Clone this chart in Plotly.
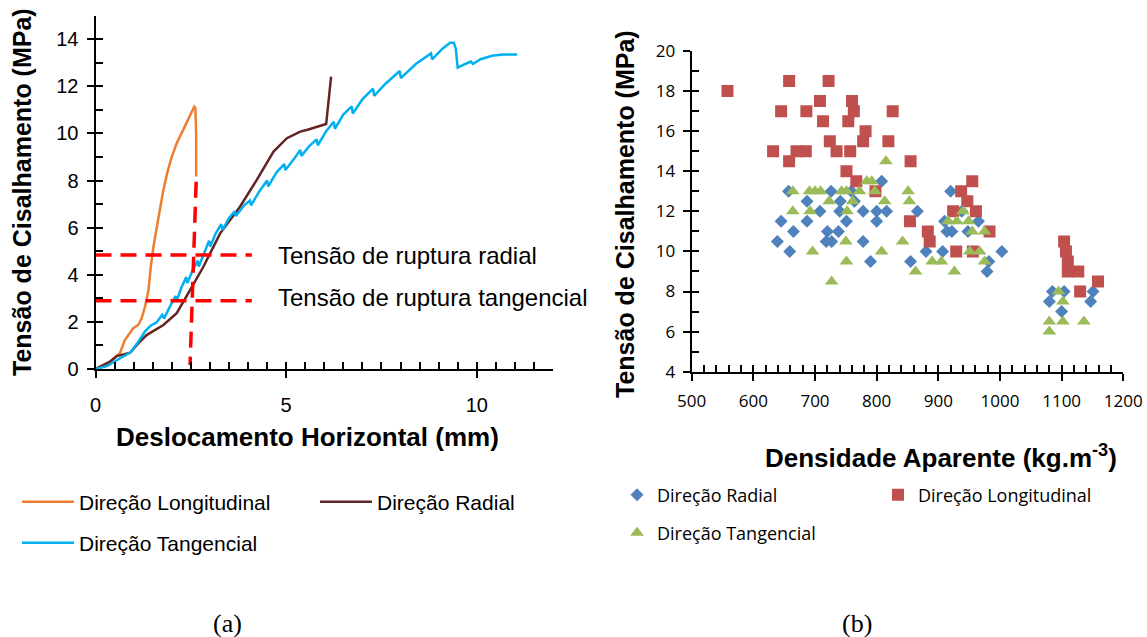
import plotly.graph_objects as go

W, H = 1147, 637

# ---------------- (a) shear stress vs horizontal displacement ----------------
long_x = [0, 0.29, 0.47, 0.64, 0.77, 0.91, 0.99, 1.12, 1.21, 1.30, 1.39, 1.45, 1.52, 1.61, 1.69,
          1.78, 1.89, 2.0, 2.13, 2.26, 2.39, 2.52, 2.59, 2.62, 2.64, 2.64]
long_y = [0, 0.17, 0.45, 0.67, 1.23, 1.58, 1.73, 1.87, 2.15, 2.65, 3.35, 4.34, 5.19, 6.04, 6.75,
          7.6, 8.38, 9.01, 9.58, 10.01, 10.43, 10.86, 11.14, 11.07, 10.01, 8.17]

rad_x = [0, 0.38, 0.56, 0.91, 1.12, 1.34, 1.78, 2.13, 2.48, 2.83, 3.27, 3.79, 4.23, 4.67, 5.02,
         5.37, 5.54, 6.05, 6.18]
rad_y = [0, 0.31, 0.55, 0.69, 1.09, 1.44, 1.87, 2.37, 3.35, 4.34, 5.76, 6.89, 8.03, 9.23, 9.8,
         10.08, 10.15, 10.4, 12.41]

tan_x = [0, 0.3, 0.5, 0.75, 0.91, 1.1, 1.3, 1.45, 1.6, 1.75, 1.8, 1.95, 2.1, 2.13, 2.25, 2.38, 2.41,
         2.55, 2.68, 2.71, 2.85, 2.98, 3.01, 3.15, 3.3, 3.33, 3.5, 3.65, 3.68, 3.9, 4.05, 4.08, 4.3,
         4.5, 4.53, 4.75, 4.95, 4.98, 5.2, 5.37, 5.4, 5.6, 5.8, 5.83, 6.05, 6.25, 6.28, 6.5, 6.72,
         6.75, 7.0, 7.28, 7.31, 7.6, 7.98, 8.01, 8.4, 8.8, 8.83, 9.1, 9.3, 9.4, 9.45, 9.5, 9.7,
         9.85, 9.9, 10.1, 10.4, 10.7, 11.06]
tan_y = [0, 0.12, 0.32, 0.55, 0.7, 1.1, 1.6, 1.85, 1.97, 2.3, 2.15, 2.65, 3.1, 2.9, 3.45, 3.9, 3.65,
         4.2, 4.6, 4.35, 4.95, 5.45, 5.2, 5.75, 6.15, 5.9, 6.4, 6.7, 6.5, 6.95, 7.15, 6.95, 7.55,
         8.0, 7.75, 8.35, 8.7, 8.45, 8.9, 9.3, 9.05, 9.45, 9.75, 9.5, 10.1, 10.5, 10.2, 10.8, 11.15,
         10.85, 11.45, 11.9, 11.6, 12.1, 12.65, 12.35, 12.95, 13.4, 13.15, 13.6, 13.85, 13.85, 13.6,
         12.8, 12.95, 13.05, 12.95, 13.15, 13.3, 13.35, 13.35]

rupt_radial_x = [0, 4.1]
rupt_radial_y = [4.84, 4.84]
rupt_tang_x = [0, 4.1]
rupt_tang_y = [2.9, 2.9]
rupt_vert_x = [2.64, 2.48]
rupt_vert_y = [7.95, 0.17]

# ---------------- (b) shear stress vs apparent density ----------------
radial_dens = [639, 645, 657, 659, 665, 687, 687, 708, 718, 720, 726, 727, 738, 740, 741, 751, 759,
               764, 778, 778, 790, 800, 800, 808, 816, 855, 866, 880, 907, 910, 914, 920, 922, 938,
               948, 965, 979, 982, 1003, 1080, 1085, 1100, 1104, 1147, 1151]
radial_tau = [10.5, 11.5, 13, 10, 11, 12.5, 11.5, 12, 10.5, 11, 13, 10.5, 11, 12, 12.5, 11.5, 13,
              12.5, 12, 10.5, 9.5, 12, 11.5, 13.5, 12, 9.5, 12, 10, 10, 11.5, 11, 13, 11, 12,
              11, 11.5, 9, 9.5, 10, 7.5, 8, 7, 8, 7.5, 8]

long_dens = [558, 632, 645, 658, 658, 670, 685, 686, 708, 713, 722, 724, 735, 751, 754, 757, 760,
             763, 767, 778, 782, 798, 819, 826, 855, 854, 883, 886, 924, 929, 937, 947, 955, 956,
             961, 983, 1104, 1107, 1110, 1110, 1127, 1130, 1159]
long_tau = [18, 15, 17, 18.5, 14.5, 15, 15, 17, 17.5, 16.5, 18.5, 15.5, 15, 14, 16.5, 15, 17.5,
            17, 13.5, 15.5, 16, 13, 15.5, 17, 14.5, 11.5, 11, 10.5, 12, 10, 13, 12.5, 13.5, 10,
            12, 11, 10.5, 10, 9.5, 9, 9, 8, 8.5]

tang_dens = [664, 664, 691, 692, 696, 700, 709, 723, 727, 743, 750, 751, 751, 752, 761, 772, 784,
             792, 797, 808, 813, 815, 842, 851, 853, 863, 890, 905, 916, 926, 930, 940, 949, 951,
             955, 967, 975, 975, 1080, 1080, 1095, 1102, 1102, 1136]
tang_tau = [13, 12, 13, 12, 10, 13, 13, 12.5, 8.5, 13, 10.5, 13, 9.5, 12, 12.5, 13, 13.5,
            13.5, 13, 10, 12.5, 14.5, 10.5, 13, 12.5, 9, 9.5, 9.5, 11.5, 9, 11.5, 12, 11.5, 10,
            11, 10, 11, 9.5, 6.5, 6, 8, 7.5, 6.5, 6.5]

ARIAL = "Liberation Sans, Arial, sans-serif"
SOFT = "Open Sans, Liberation Sans, sans-serif"

fig = go.Figure()

# left panel traces
fig.add_trace(go.Scatter(x=long_x, y=long_y, mode="lines", name="Direção Longitudinal",
                         line=dict(color="#ED7D31", width=2.5), xaxis="x", yaxis="y", legend="legend"))
fig.add_trace(go.Scatter(x=rad_x, y=rad_y, mode="lines", name="Direção Radial",
                         line=dict(color="#632523", width=2.5), xaxis="x", yaxis="y", legend="legend"))
fig.add_trace(go.Scatter(x=tan_x, y=tan_y, mode="lines", name="Direção Tangencial",
                         line=dict(color="#00B0F0", width=2.5), xaxis="x", yaxis="y", legend="legend3"))
for xs, ys in [(rupt_radial_x, rupt_radial_y), (rupt_tang_x, rupt_tang_y), (rupt_vert_x, rupt_vert_y)]:
    fig.add_trace(go.Scatter(x=xs, y=ys, mode="lines", showlegend=False, hoverinfo="skip",
                             line=dict(color="#FF0000", width=3.5, dash="16px,9px"),
                             xaxis="x", yaxis="y"))

# right panel traces
fig.add_trace(go.Scatter(x=radial_dens, y=radial_tau, mode="markers", name="Direção Radial",
                         marker=dict(symbol="diamond", size=10, color="#4F81BD"),
                         xaxis="x2", yaxis="y2", legend="legend2"))
fig.add_trace(go.Scatter(x=long_dens, y=long_tau, mode="markers", name="Direção Longitudinal",
                         marker=dict(symbol="square", size=12, color="#C0504D"),
                         xaxis="x2", yaxis="y2", legend="legend2"))
fig.add_trace(go.Scatter(x=tang_dens, y=tang_tau, mode="markers", name="Direção Tangencial",
                         marker=dict(symbol="triangle-up", size=12, color="#9BBB59"),
                         xaxis="x2", yaxis="y2", legend="legend4"))

# dummy traces for the overlay (inside tick) axes
fig.add_trace(go.Scatter(x=[None], y=[None], showlegend=False, xaxis="x3", yaxis="y3"))
fig.add_trace(go.Scatter(x=[None], y=[None], showlegend=False, xaxis="x4", yaxis="y4"))

LX = [95.5 / W, 553 / W]
LY = [1 - 369 / H, 1 - 15.7 / H]
RX = [691.7 / W, 1123.3 / W]
RY = [1 - 371.7 / H, 1 - 51 / H]

base = dict(showline=True, linecolor="black", linewidth=2, showgrid=False, zeroline=False,
            ticks="outside", ticklen=7, tickwidth=2, tickcolor="black", automargin=False,
            fixedrange=True)
inner = dict(showline=False, showgrid=False, zeroline=False, ticks="inside", ticklen=7,
             tickwidth=2, tickcolor="black", showticklabels=False, automargin=False)

fig.update_layout(
    width=W, height=H, margin=dict(l=0, r=0, t=0, b=0),
    paper_bgcolor="white", plot_bgcolor="rgba(0,0,0,0)",
    xaxis=dict(base, domain=LX, range=[0, 12], tick0=0, dtick=5, anchor="y",
               tickfont=dict(family=ARIAL, size=20, color="black"), ticklabelstandoff=10),
    yaxis=dict(base, domain=LY, range=[0, 15], tick0=0, dtick=2, anchor="x",
               tickfont=dict(family=ARIAL, size=20, color="black"), ticklabelstandoff=4),
    xaxis3=dict(inner, range=[0, 12], tick0=0, dtick=0.5, overlaying="x", anchor="y3",
                domain=LX),
    yaxis3=dict(inner, range=[0, 15], tick0=0, dtick=1, overlaying="y", anchor="x3",
                domain=LY),
    xaxis2=dict(base, domain=RX, range=[500, 1200], tick0=500, dtick=100, anchor="y2",
                tickfont=dict(family=SOFT, size=17, color="black"), ticklabelstandoff=6),
    yaxis2=dict(base, domain=RY, range=[4, 20], tick0=4, dtick=2, anchor="x2",
                tickfont=dict(family=SOFT, size=17, color="black"), ticklabelstandoff=4),
    xaxis4=dict(inner, range=[500, 1200], tick0=500, dtick=20, overlaying="x2", anchor="y4",
                domain=RX),
    yaxis4=dict(inner, range=[4, 20], tick0=4, dtick=1, overlaying="y2", anchor="x4",
                domain=RY),
    legend=dict(orientation="h", x=17 / W, xanchor="left", y=1 - 502 / H, yanchor="middle",
                itemwidth=52, entrywidth=231, entrywidthmode="pixels", bgcolor="rgba(0,0,0,0)",
                font=dict(family=ARIAL, size=21, color="black")),
    legend3=dict(orientation="h", x=17 / W, xanchor="left", y=1 - 543 / H, yanchor="middle",
                 itemwidth=52, bgcolor="rgba(0,0,0,0)",
                 font=dict(family=ARIAL, size=21, color="black")),
    legend2=dict(orientation="h", x=617 / W, xanchor="left", y=1 - 495 / H, yanchor="middle",
                 entrywidth=216, entrywidthmode="pixels", bgcolor="rgba(0,0,0,0)",
                 font=dict(family=SOFT, size=18, color="black")),
    legend4=dict(orientation="h", x=617 / W, xanchor="left", y=1 - 533 / H, yanchor="middle",
                 bgcolor="rgba(0,0,0,0)", font=dict(family=SOFT, size=18, color="black")),
)

ann = [
    dict(text="Tensão de ruptura radial", x=4.73, y=4.84, xref="x", yref="y", xanchor="left",
         yanchor="middle", font=dict(family=ARIAL, size=24, color="black")),
    dict(text="Tensão de ruptura tangencial", x=4.73, y=3.05, xref="x", yref="y", xanchor="left",
         yanchor="middle", font=dict(family=ARIAL, size=24, color="black")),
    dict(text="<b>Tensão de Cisalhamento (MPa)</b>", x=22 / W, y=1 - 192 / H, xref="paper",
         yref="paper", textangle=-90, xanchor="center", yanchor="middle",
         font=dict(family=ARIAL, size=25, color="black")),
    dict(text="<b>Deslocamento Horizontal (mm)</b>", x=307 / W, y=1 - 437 / H, xref="paper",
         yref="paper", xanchor="center", yanchor="middle",
         font=dict(family=ARIAL, size=26, color="black")),
    dict(text="<b>Tensão de Cisalhamento (MPa)</b>", x=625 / W, y=1 - 214 / H, xref="paper",
         yref="paper", textangle=-90, xanchor="center", yanchor="middle",
         font=dict(family=ARIAL, size=25, color="black")),
    dict(text="<b>Densidade Aparente (kg.m<sup>-3</sup>)</b>", x=941 / W, y=1 - 456 / H,
         xref="paper", yref="paper", xanchor="center", yanchor="middle",
         font=dict(family=ARIAL, size=26, color="black")),
    dict(text="(a)", x=227 / W, y=1 - 623 / H, xref="paper", yref="paper",
         xanchor="center", yanchor="middle",
         font=dict(family="Liberation Serif, Times New Roman, serif", size=26, color="black")),
    dict(text="(b)", x=857 / W, y=1 - 623 / H, xref="paper", yref="paper",
         xanchor="center", yanchor="middle",
         font=dict(family="Liberation Serif, Times New Roman, serif", size=26, color="black")),
]
for a in ann:
    a["showarrow"] = False
fig.update_layout(annotations=ann)

fig.write_html("out.html")
